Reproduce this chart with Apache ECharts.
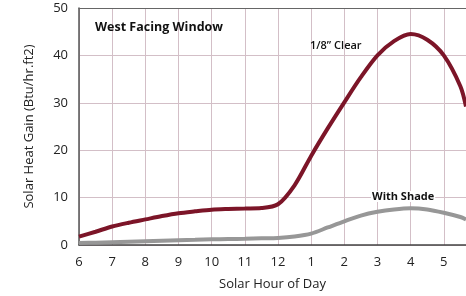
<!DOCTYPE html>
<html>
<head>
<meta charset="utf-8">
<script src="https://cdn.jsdelivr.net/npm/echarts@6/dist/echarts.min.js"></script>
<style>
  html, body { margin: 0; padding: 0; background: #fff; }
  #chart { width: 466px; height: 296px; }
</style>
</head>
<body>
<div id="chart"></div>
<script>
// solar hour, 6 = 6am ... 17 = 5pm; the plot is cut off a bit after 5pm
const hours = [6, 6.5, 7, 7.5, 8, 8.5, 9, 9.5, 10, 10.5, 11, 11.5, 12, 12.5,
  13, 13.5, 14, 14.5, 15, 15.5, 16, 16.5, 17, 17.5, 17.67]
const clearGain = [1.75, 2.8, 3.9, 4.7, 5.4, 6.1, 6.7, 7.1, 7.45, 7.6, 7.7, 7.8, 8.6, 12.6,
  18.8, 24.6, 30.1, 35.4, 40, 43, 44.5, 43.3, 40, 33.5, 29.2]
const shadeGain = [0.4, 0.5, 0.6, 0.7, 0.8, 0.9, 1.0, 1.1, 1.2, 1.25, 1.3, 1.4, 1.5, 1.8,
  2.4, 3.7, 5.0, 6.2, 7.0, 7.5, 7.75, 7.5, 6.8, 5.9, 5.4]
const yTicks = [0, 10, 20, 30, 40, 50]

const font = 'Open Sans'
const gridColor = '#d3bfc7'
const chart = echarts.init(document.getElementById('chart'))

const pairs = (ys) => hours.map((h, i) => [h, ys[i]])
const xMin = 6
const xMax = hours[hours.length - 1]

chart.setOption({
  animation: false,
  grid: { left: 79, right: 0, top: 8, bottom: 48 },
  xAxis: [
    {
      type: 'value',
      min: xMin,
      max: xMax,
      interval: 1,
      name: 'Solar Hour of Day',
      nameLocation: 'middle',
      nameGap: 33,
      nameTextStyle: { color: '#222', fontSize: 13, fontFamily: font },
      axisLine: { lineStyle: { color: '#444', width: 1.5 } },
      axisTick: { show: false },
      axisLabel: {
        color: '#222', fontSize: 13, fontFamily: font, margin: 11,
        showMaxLabel: false,
        formatter: v => Number.isInteger(v) ? String(v > 12 ? v - 12 : v) : ''
      },
      splitLine: { show: true, lineStyle: { color: gridColor, width: 1, opacity: 1 } }
    },
    {
      // top frame line only
      type: 'value',
      position: 'top',
      min: xMin,
      max: xMax,
      axisLine: { show: true, lineStyle: { color: '#666', width: 1 } },
      axisTick: { show: false },
      axisLabel: { show: false },
      splitLine: { show: false }
    }
  ],
  yAxis: {
    type: 'value',
    min: yTicks[0],
    max: yTicks[yTicks.length - 1],
    interval: 10,
    name: 'Solar Heat Gain (Btu/hr.ft2)',
    nameLocation: 'middle',
    nameGap: 43,
    nameTextStyle: { color: '#222', fontSize: 13, fontFamily: font },
    axisLine: { show: true, lineStyle: { color: '#555', width: 1.5 } },
    axisTick: { show: false },
    axisLabel: { color: '#222', fontSize: 13, fontFamily: font, margin: 11 },
    splitLine: { show: true, lineStyle: { color: gridColor, width: 1, opacity: 1 } }
  },
  graphic: [
    { type: 'text', left: 95, top: 21, z: 100,
      style: { text: 'West Facing Window', font: 'bold 12.5px "Open Sans"', fill: '#111' } },
    { type: 'text', left: 310, top: 40, z: 100,
      style: { text: '1/8\u201D Clear', font: '600 11px "Open Sans"', fill: '#111' } },
    { type: 'text', left: 371, top: 191, z: 100,
      style: { text: 'With Shade', font: 'bold 11px "Open Sans"', fill: '#111',
               backgroundColor: '#fff', padding: [0, 1] } }
  ],
  series: [
    {
      name: 'With Shade',
      type: 'line',
      smooth: 0.3,
      symbol: 'none',
      data: pairs(shadeGain),
      lineStyle: { color: '#979797', width: 4 }
    },
    {
      name: '1/8" Clear',
      type: 'line',
      smooth: 0.3,
      symbol: 'none',
      data: pairs(clearGain),
      lineStyle: { color: '#7c1528', width: 4 }
    }
  ]
})
</script>
</body>
</html>
